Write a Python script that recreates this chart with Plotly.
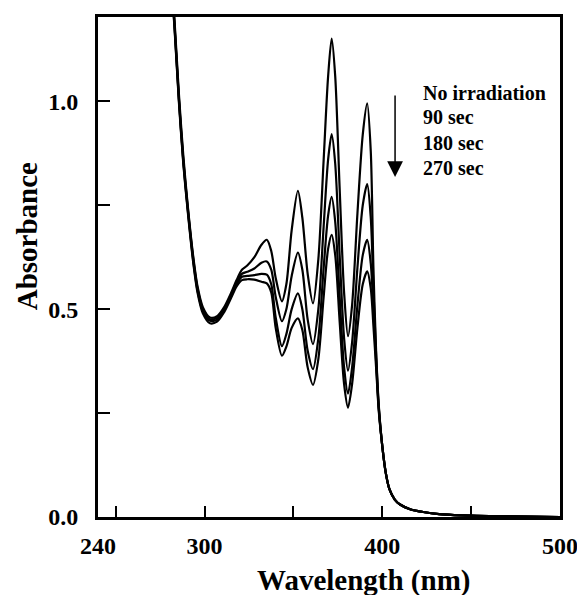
import plotly.graph_objects as go

wavelength = [279, 283, 285.5, 288, 290.5, 293.5, 296, 299, 303, 307, 311, 315, 318, 321, 324, 328, 332, 335,
              337.5, 340, 343.5, 346, 349, 352.5, 355, 358, 361, 364, 367, 369.5, 371.5, 373.5, 376, 378.5,
              380.7, 383, 386, 389, 391.5, 393.5, 395, 396.5, 398, 400, 402, 404, 407, 410, 416, 423, 432,
              445, 460, 480, 500]

tail = [0.17, 0.105, 0.067, 0.042, 0.03, 0.018, 0.012, 0.007, 0.004, 0.002, 0.001, 0.0]

abs_0 = [1.45, 1.20, 1.02, 0.87, 0.75, 0.63, 0.555, 0.505, 0.48, 0.483, 0.505, 0.54, 0.57, 0.595, 0.605,
         0.625, 0.655, 0.667, 0.64, 0.575, 0.519, 0.56, 0.69, 0.785, 0.72, 0.585, 0.514, 0.62, 0.86, 1.06,
         1.151, 1.06, 0.79, 0.54, 0.435, 0.51, 0.73, 0.92, 0.995, 0.88, 0.6, 0.4, 0.27] + tail
abs_90 = [1.44, 1.19, 1.01, 0.86, 0.745, 0.625, 0.55, 0.5, 0.476, 0.479, 0.5, 0.535, 0.565, 0.585, 0.59,
          0.598, 0.612, 0.615, 0.595, 0.53, 0.471, 0.5, 0.58, 0.636, 0.595, 0.475, 0.416, 0.5, 0.7, 0.86,
          0.921, 0.85, 0.63, 0.43, 0.352, 0.42, 0.6, 0.75, 0.801, 0.72, 0.55, 0.39, 0.265] + tail
abs_180 = [1.435, 1.185, 1.005, 0.855, 0.74, 0.62, 0.545, 0.495, 0.472, 0.475, 0.497, 0.532, 0.56, 0.578,
           0.58, 0.582, 0.585, 0.583, 0.56, 0.48, 0.411, 0.44, 0.5, 0.538, 0.5, 0.4, 0.356, 0.43, 0.6, 0.725,
           0.77, 0.71, 0.53, 0.36, 0.297, 0.36, 0.51, 0.63, 0.667, 0.61, 0.5, 0.375, 0.26] + tail
abs_270 = [1.43, 1.18, 1.0, 0.85, 0.735, 0.615, 0.54, 0.49, 0.466, 0.47, 0.493, 0.528, 0.555, 0.57, 0.572,
           0.571, 0.566, 0.562, 0.54, 0.455, 0.388, 0.41, 0.455, 0.478, 0.45, 0.36, 0.318, 0.38, 0.53, 0.645,
           0.679, 0.63, 0.47, 0.32, 0.263, 0.32, 0.455, 0.56, 0.591, 0.55, 0.46, 0.36, 0.255] + tail

series_names = ["No irradiation", "90 sec", "180 sec", "270 sec"]
series_values = [abs_0, abs_90, abs_180, abs_270]

x_tickvals = [240, 250, 300, 350, 400, 450, 500]
x_ticktext = ["240", "", "300", "", "400", "", "500"]
y_tickvals = [0, 0.25, 0.5, 0.75, 1.0]
y_ticktext = ["0.0", "", "0.5", "", "1.0"]

FONT = "Liberation Serif"

fig = go.Figure()
for name, vals in zip(series_names, series_values):
    fig.add_trace(go.Scatter(x=wavelength, y=vals, mode="lines", name=name,
                             line=dict(color="black", width=2.2, shape="spline", smoothing=0.8),
                             showlegend=False))

# page body has an 8px margin: margins are shifted so the plot lands where the reference has it
fig.update_layout(
    width=585, height=595,
    margin=dict(l=90, r=33, t=6, b=86),
    paper_bgcolor="white", plot_bgcolor="white",
    font=dict(family=FONT, color="black"),
)
fig.update_xaxes(range=[240, 500], tickvals=x_tickvals, ticktext=x_ticktext,
                 ticks="inside", ticklen=11, tickwidth=2, tickcolor="black",
                 showline=True, linewidth=3, linecolor="black", mirror=True,
                 showgrid=False, zeroline=False, ticklabelstandoff=5,
                 ticklabeloverflow="allow",
                 tickfont=dict(family=FONT, size=24, color="black", weight="bold"))
fig.update_yaxes(range=[0, 1.203], tickvals=y_tickvals, ticktext=y_ticktext,
                 ticks="inside", ticklen=12, tickwidth=2, tickcolor="black",
                 showline=True, linewidth=3, linecolor="black", mirror=True,
                 showgrid=False, zeroline=False, ticklabelstandoff=12,
                 tickfont=dict(family=FONT, size=24, color="black", weight="bold"))

# axis titles
fig.add_annotation(text="Wavelength (nm)", xref="paper", yref="paper", x=0.574, y=-0.127,
                   xanchor="center", yanchor="middle", showarrow=False,
                   font=dict(family=FONT, size=29, color="black", weight="bold"))
fig.add_annotation(text="Absorbance", xref="paper", yref="paper", x=-0.152, y=0.561,
                   xanchor="center", yanchor="middle", showarrow=False, textangle=-90,
                   font=dict(family=FONT, size=29, color="black", weight="bold"))

# legend text
legend_y = [0.849, 0.799, 0.748, 0.698]
for name, yy in zip(series_names, legend_y):
    fig.add_annotation(text=name, xref="paper", yref="paper", x=0.699, y=yy,
                       xanchor="left", yanchor="middle", showarrow=False,
                       font=dict(family=FONT, size=20, color="black", weight="bold"))

# arrow
fig.add_annotation(text="", xref="paper", yref="paper", x=0.643, y=0.680,
                   ax=0, ay=-83, showarrow=True, arrowhead=2, arrowsize=2.1,
                   arrowwidth=1.5, arrowcolor="black")

fig.write_html("out.html")
